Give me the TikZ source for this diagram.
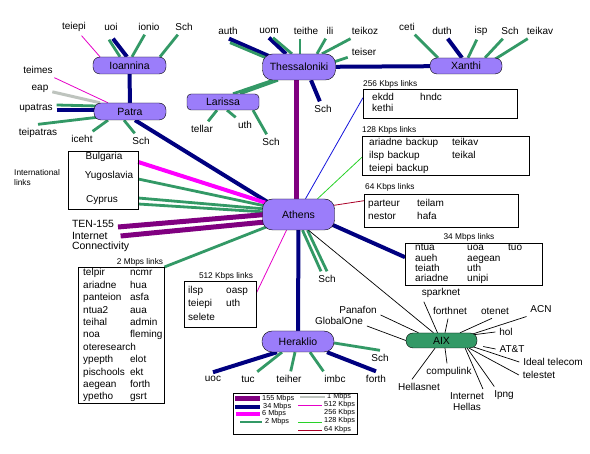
\documentclass[tikz,border=0pt]{standalone}
\usepackage{fontspec}
\setmainfont{Liberation Sans}
\usetikzlibrary{backgrounds}
\definecolor{hubfill}{RGB}{155,125,250}
\definecolor{aixfill}{RGB}{51,153,102}
\definecolor{c155}{RGB}{128,0,128}
\definecolor{c34}{RGB}{0,0,128}
\definecolor{c6}{RGB}{255,0,255}
\definecolor{c2}{RGB}{51,153,102}
\definecolor{c1}{RGB}{190,196,190}
\definecolor{c512}{RGB}{230,0,200}
\definecolor{c256}{RGB}{20,20,220}
\definecolor{c128}{RGB}{40,210,40}
\definecolor{c64}{RGB}{170,0,40}
\newcommand{\sitefont}{\fontsize{10}{11}\selectfont}
\newcommand{\hubfont}{\fontsize{10.5}{12}\selectfont}
\newcommand{\headfont}{\fontsize{8.3}{9.5}\selectfont}
\newcommand{\keyfont}{\fontsize{7.3}{8}\selectfont}
\newcommand{\listfont}[1]{\fontsize{10}{#1}\selectfont}
\tikzset{hub/.style = {draw, fill = hubfill, rounded corners = 7pt, minimum width = 72pt,
                       minimum height = 16pt, inner sep = 0pt, font = \hubfont}}
\tikzset{site/.style = {inner sep = 1pt, outer sep = 3pt, font = \sitefont}}
\tikzset{listbox/.style = {draw, anchor = north west, inner ysep = 0pt, align = left}}
\tikzset{headtext/.style = {inner sep = 0pt, font = \headfont}}
\tikzset{keytext/.style = {anchor = west, inner sep = 0pt, font = \keyfont}}
\tikzset{l155/.style = {c155, line width = 5pt}}
\tikzset{l34/.style = {c34, line width = 4pt}}
\tikzset{l6/.style = {c6, line width = 4pt}}
\tikzset{l2/.style = {c2, line width = 2.8pt}}
\tikzset{l1/.style = {c1, line width = 3pt}}
\tikzset{k512/.style = {c512, line width = 0.8pt}}
\tikzset{k256/.style = {c256, line width = 0.8pt}}
\tikzset{k128/.style = {c128, line width = 0.8pt}}
\tikzset{k64/.style = {c64, line width = 0.8pt}}
\tikzset{peer/.style = {black, line width = 0.7pt}}

\begin{document}
\begin{tikzpicture}[x = 1pt, y = -1pt]
  \useasboundingbox (0, 0) rectangle (590, 454);

  \node [hub, minimum width = 73pt, minimum height = 17pt] (Ioannina) at (129.5, 65.5) {Ioannina};
  \node [hub, minimum height = 17pt] (Patra) at (130, 111.5) {Patra};
  \node [hub, minimum width = 73pt, minimum height = 26pt, rounded corners = 10pt] (Thessaloniki) at (299, 67) {Thessaloniki};
  \node [hub, rounded corners = 4pt] (Larissa) at (223, 102) {Larissa};
  \node [hub] (Xanthi) at (466, 66) {Xanthi};
  \node [hub, minimum height = 31pt, rounded corners = 10pt] (Athens) at (298.5, 214.5) {Athens};
  \node [hub, minimum height = 21pt, rounded corners = 10pt] (Heraklio) at (298, 341.5) {Heraklio};
  \node [hub, fill = aixfill, minimum width = 71pt, minimum height = 15pt] (AIX) at (441.5, 340.5) {AIX};

  \node [site] (teiepi) at (74, 27) {teiepi};
  \node [site] (uoi) at (111, 27) {uoi};
  \node [site] (ionio) at (149, 27) {ionio};
  \node [site] (schIoa) at (184, 27) {Sch};
  \node [site] (teimes) at (38, 70) {teimes};
  \node [site] (eap) at (40, 89) {eap};
  \node [site] (upatras) at (36, 108) {upatras};
  \node [site] (teipatras) at (38, 133) {teipatras};
  \node [site] (iceht) at (82, 139) {iceht};
  \node [site] (schPat) at (141, 141) {Sch};
  \node [site] (auth) at (228, 31) {auth};
  \node [site] (uom) at (269, 31) {uom};
  \node [site] (teithe) at (306, 31) {teithe};
  \node [site] (ili) at (330, 31) {ili};
  \node [site] (teikoz) at (365, 31) {teikoz};
  \node [site] (teiser) at (364, 52) {teiser};
  \node [site] (schThe) at (323, 109) {Sch};
  \node [site] (tellar) at (202, 129) {tellar};
  \node [site] (uthLar) at (245, 125) {uth};
  \node [site] (schLar) at (271, 142) {Sch};
  \node [site] (ceti) at (407, 27) {ceti};
  \node [site] (duth) at (442, 31) {duth};
  \node [site] (isp) at (481, 31) {isp};
  \node [site] (schXan) at (510, 31) {Sch};
  \node [site] (teikav) at (540, 31) {teikav};
  \node [site] (schAth) at (327, 279) {Sch};
  \node [site] (uoc) at (213, 379) {uoc};
  \node [site] (tuc) at (248, 379) {tuc};
  \node [site] (teiher) at (289, 379) {teiher};
  \node [site] (imbc) at (335, 379) {imbc};
  \node [site] (forth) at (376, 379) {forth};
  \node [site] (schHer) at (380, 358) {Sch};
  \node [site] (sparknet) at (441, 293) {sparknet};
  \node [site] (forthnet) at (450, 311) {forthnet};
  \node [site] (otenet) at (495, 311) {otenet};
  \node [site] (ACN) at (541, 309) {ACN};
  \node [site] (hol) at (506, 332) {hol};
  \node [site] (ATT) at (512, 349) {AT\&T};
  \node [site] (ideal) at (553, 362) {Ideal telecom};
  \node [site] (telestet) at (539, 375) {telestet};
  \node [site] (ipng) at (504, 395) {Ipng};
  \node [site, align = center] (ihellas) at (467, 402) {Internet\\Hellas};
  \node [site] (compulink) at (449, 372) {compulink};
  \node [site] (hellasnet) at (419, 387) {Hellasnet};
  \node [site] (panafon) at (358, 310) {Panafon};
  \node [site] (globalone) at (339, 321) {GlobalOne};

  \node [headtext, align = left, anchor = west] (intl) at (14, 177.5) {International\\links};
  \node [draw, minimum width = 70pt, minimum height = 58pt, inner sep = 0pt] (intlbox) at (103, 180) {};
  \node [site] (bulgaria) at (104, 157) {Bulgaria};
  \node [site] (yugoslavia) at (109, 176) {Yugoslavia};
  \node [site] (cyprus) at (102, 200) {Cyprus};
  \node [site, anchor = west, font = \hubfont] (ten) at (68, 224) {TEN-155};
  \node [site, anchor = west, font = \hubfont] (inet) at (68, 236) {Internet};
  \node [site, anchor = west, font = \hubfont] (conn) at (68, 247) {Connectivity};

  \node [headtext, anchor = west] (t256) at (363, 84) {256 Kbps links};
  \node [listbox, minimum height = 29pt, text width = 136pt, inner xsep = 9pt, font = \listfont{11}] (box256) at (363, 89)
    {\begin{tabular}{@{}p{48pt}@{}l@{}} ekdd & hndc\\ kethi & \end{tabular}};
  \node [headtext, anchor = west] (t128) at (362, 130) {128 Kbps links};
  \node [listbox, minimum height = 39pt, text width = 153pt, inner xsep = 7pt, font = \listfont{13}] (box128) at (362, 136)
    {\begin{tabular}{@{}p{83pt}@{}l@{}} ariadne backup & teikav\\ ilsp backup & teikal\\ teiepi backup & \end{tabular}};
  \node [headtext, anchor = west] (t64) at (365, 187) {64 Kbps links};
  \node [listbox, minimum height = 33pt, text width = 146pt, inner xsep = 4pt, font = \listfont{13}] (box64) at (364, 194)
    {\begin{tabular}{@{}p{49pt}@{}l@{}} parteur & teilam\\ nestor & hafa \end{tabular}};
  \node [headtext] (t34) at (469, 237) {34 Mbps links};
  \node [listbox, minimum height = 42pt, text width = 117pt, inner xsep = 10pt, font = \listfont{10.3}] (box34) at (405, 243)
    {\begin{tabular}{@{}p{52pt}@{}p{41pt}@{}l@{}} ntua & uoa & tuo\\ aueh & aegean & \\ teiath & uth & \\ ariadne & unipi & \end{tabular}};
  \node [headtext] (t512) at (226, 276) {512 Kbps links};
  \node [listbox, minimum height = 46pt, text width = 64pt, inner xsep = 4pt, font = \listfont{13.5}] (box512) at (184, 281)
    {\begin{tabular}{@{}p{38pt}@{}l@{}} ilsp & oasp\\ teiepi & uth\\ selete & \end{tabular}};
  \node [headtext] (t2) at (140, 262) {2 Mbps links};
  \node [listbox, minimum height = 136pt, text width = 76pt, inner xsep = 5pt, font = \listfont{12.4}] (box2) at (78, 267)
    {\begin{tabular}{@{}p{47pt}@{}l@{}} telpir & ncmr\\ ariadne & hua\\ panteion & asfa\\ ntua2 & aua\\ teihal & admin\\
     noa & fleming\\ \multicolumn{2}{@{}l@{}}{oteresearch}\\ ypepth & elot\\ pischools & ekt\\ aegean & forth\\ ypetho & gsrt \end{tabular}};

  \node [draw, minimum width = 124pt, minimum height = 41pt, inner sep = 0pt] (legend) at (295, 413.5) {};
  \draw [l155] (235, 399) -- (260, 399);
  \node [keytext] (k155) at (262, 399) {155 Mbps};
  \draw [l34] (235, 407) -- (260, 407);
  \node [keytext] (k34) at (263, 407) {34 Mbps};
  \draw [l6] (236, 414) -- (260, 414);
  \node [keytext] (k6) at (262, 414) {6 Mbps};
  \draw [l2, line width = 2.2pt] (240, 422) -- (262, 422);
  \node [keytext] (k2) at (265, 422) {2 Mbps};
  \draw [l1, line width = 2pt] (300, 397) -- (325, 397);
  \node [keytext] (k1) at (327, 397) {1 Mbps};
  \draw [k512] (298, 405) -- (322, 405);
  \node [keytext] (kk512) at (324, 405) {512 Kbps};
  \node [keytext] (kk256) at (324, 413) {256 Kbps};
  \draw [k128] (298, 422) -- (322, 422);
  \node [keytext] (kk128) at (324, 421) {128 Kbps};
  \draw [k64] (298, 430) -- (322, 430);
  \node [keytext] (kk64) at (324, 430) {64 Kbps};

  \begin{pgfonlayer}{background}
    \fill [white] (0, 0) rectangle (590, 454);

    \draw [k512] (teiepi) -- ([xshift = -29.5]Ioannina.north);
    \draw [l34] ([xshift = 2, yshift = -4]uoi.south) -- ([xshift = -2.5]Ioannina.north);
    \draw [l2] ([xshift = -2, yshift = -5]uoi.south) -- ([xshift = -9.5]Ioannina.north);
    \draw [l2] (ionio) -- ([xshift = 2.5]Ioannina.north);
    \draw [l2] (schIoa) -- ([xshift = 30.5]Ioannina.north);
    \draw [l34] (Ioannina) -- (Patra);

    \draw [k512] (teimes) -- ([xshift = -22]Patra.north);
    \draw [l1] (eap) -- ([xshift = -30]Patra.north);
    \draw [l2] ([yshift = 3]upatras.east) -- ([xshift = 3, yshift = 5.5]Patra.west);
    \draw [l34] ([yshift = -2]upatras.east) -- ([xshift = 2, yshift = 1.5]Patra.west);
    \draw [l2] (teipatras.north) -- ([xshift = -32, yshift = 3]Patra.south);
    \draw [l2] (iceht) -- ([xshift = -22]Patra.south);
    \draw [l2] (schPat) -- ([xshift = -6]Patra.south);
    \draw [l34] ([xshift = 5]Patra.south) -- ([xshift = -28, yshift = -5]Athens.north);

    \draw [l34] ([xshift = 1]auth.south) -- ([xshift = 6, yshift = -2]Thessaloniki.north west);
    \draw [l2] ([xshift = 2, yshift = -4]auth.south) -- ([xshift = 6, yshift = -5]Thessaloniki.north west);
    \draw [l34] (uom.south) -- ([xshift = -13]Thessaloniki.north);
    \draw [l2] ([xshift = 4]uom.south) -- ([xshift = -7]Thessaloniki.north);
    \draw [l2] ([xshift = -6]teithe.south) -- ([xshift = 1]Thessaloniki.north);
    \draw [l2] (ili) -- ([xshift = 18]Thessaloniki.north);
    \draw [l2] (teikoz) -- ([xshift = 23]Thessaloniki.north);
    \draw [l2] (teiser) -- ([xshift = -2, yshift = 5]Thessaloniki.east);
    \draw [l34] ([xshift = 12]Thessaloniki.south) -- (schThe);
    \draw [l2] ([xshift = -26]Thessaloniki.south) -- ([xshift = 10]Larissa.north);
    \draw [l2] ([xshift = -21]Thessaloniki.south) -- ([xshift = 17]Larissa.north);
    \draw [l34] (Thessaloniki) -- (Xanthi);
    \draw [l155] ([xshift = -2.5]Thessaloniki.south) -- ([xshift = -2]Athens.north);

    \draw [l2] (tellar) -- ([xshift = -6]Larissa.south);
    \draw [l2] (uthLar) -- ([xshift = 4]Larissa.south);
    \draw [l2] (schLar) -- ([xshift = 30]Larissa.south);

    \draw [l2] (ceti) -- ([xshift = -28]Xanthi.north);
    \draw [l34] (duth) -- ([xshift = -4]Xanthi.north);
    \draw [l2] (isp) -- ([xshift = 2]Xanthi.north);
    \draw [l2] (schXan) -- ([xshift = 19]Xanthi.north);
    \draw [l2] (teikav) -- ([xshift = 28, yshift = -2]Xanthi.north);

    \draw [l6] ([yshift = 18]intlbox.east) -- ([xshift = 4, yshift = 11.5]Athens.west);
    \draw [l2] ([yshift = 1]intlbox.east) -- ([xshift = 3, yshift = 8.5]Athens.west);
    \draw [l2] ([yshift = -18]intlbox.east) -- ([xshift = 3, yshift = 5.5]Athens.west);
    \draw [l2] ([yshift = -24]intlbox.east) -- ([xshift = 3, yshift = 2.5]Athens.west);
    \draw [l155] ([yshift = -3]ten.east) -- ([xshift = 3]Athens.west);
    \draw [l155] ([xshift = 9]inet.east) -- ([xshift = 3, yshift = -7.5]Athens.west);
    \draw [l2] (box2.north east) -- ([xshift = 6, yshift = 4]Athens.south west);
    \draw [k256] ([yshift = 6]box256.west) -- ([xshift = 7]Athens.north);
    \draw [k128] ([yshift = -1.5]box128.west) -- ([xshift = 19]Athens.north);
    \draw [k64] ([yshift = 10]box64.west) -- ([xshift = -2, yshift = 9]Athens.east);
    \draw [l34] ([yshift = 7]box34.west) -- ([xshift = -3, yshift = -10]Athens.east);
    \draw [k512] ([yshift = -12]box512.north east) -- ([xshift = -12]Athens.south);
    \draw [l34] (Athens) -- (Heraklio);
    \draw [l2] ([xshift = 4]Athens.south) -- ([xshift = -6]schAth.north);
    \draw [l2] ([xshift = 9]Athens.south) -- (schAth.north);
    \draw [peer] ([xshift = 10]Athens.south) -- ([xshift = -8]AIX.north);

    \draw [l34] (uoc.north) -- ([xshift = -21]Heraklio.south);
    \draw [l2] (tuc) -- ([xshift = -16]Heraklio.south);
    \draw [l2] (teiher) -- ([xshift = -3]Heraklio.south);
    \draw [l2] ([xshift = 3]imbc.north west) -- ([xshift = 12]Heraklio.south);
    \draw [l34] (forth.north) -- ([xshift = 29]Heraklio.south);
    \draw [l2] ([yshift = -1.5]Heraklio.east) -- (schHer.north);

    \draw [peer] ([xshift = 6]sparknet.south west) -- ([xshift = -4]AIX.north);
    \draw [peer] ([xshift = -2]forthnet.south) -- ([xshift = 3.5]AIX.north);
    \draw [peer] ([xshift = -3]otenet.south) -- ([xshift = 18.5]AIX.north);
    \draw [peer] (ACN.south west) -- ([xshift = -4, yshift = -1]AIX.north east);
    \draw [peer] (hol.west) -- ([xshift = -4, yshift = -2]AIX.north east);
    \draw [peer] (ATT.west) -- ([xshift = 6, yshift = -6]AIX.east);
    \draw [peer] (ideal.west) -- ([xshift = -5, yshift = -6]AIX.east);
    \draw [peer] (telestet.west) -- ([xshift = -8]AIX.south east);
    \draw [peer] ([xshift = 4]ipng.north west) -- ([xshift = -10]AIX.south east);
    \draw [peer] ([xshift = -5]ihellas.north east) -- ([xshift = -12]AIX.south east);
    \draw [peer] ([xshift = -2]compulink.north) -- ([xshift = 3.5]AIX.south);
    \draw [peer] ([xshift = -7]hellasnet.north) -- ([xshift = -6.5]AIX.south);
    \draw [peer] ([yshift = -5]panafon.east) -- ([xshift = -23]AIX.north);
    \draw [peer] ([yshift = -5]globalone.east) -- (AIX.west);
  \end{pgfonlayer}
\end{tikzpicture}
\end{document}
